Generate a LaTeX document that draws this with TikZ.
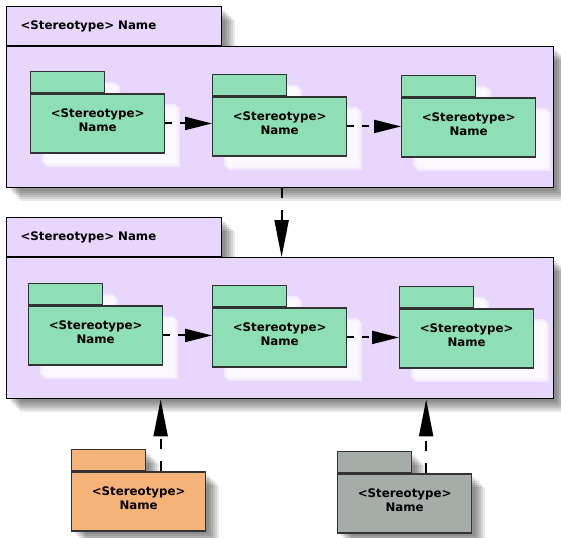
\documentclass[tikz,border=0pt]{standalone}
\usepackage{fontspec}
\setmainfont{DejaVu Sans}
\usetikzlibrary{positioning,arrows.meta,shadows}
\definecolor{pkglilac}{HTML}{E8D6FC}
\definecolor{pkggreen}{HTML}{8EDFB6}
\definecolor{pkgorange}{HTML}{F5B279}
\definecolor{pkggray}{HTML}{A6ACA7}
\definecolor{pkgline}{HTML}{333333}

\begin{document}
\begin{tikzpicture}[x=1pt,y=-1pt,
  every node/.style={font=\fontsize{11.8}{14}\selectfont\bfseries,inner sep=0pt},
  softshadow/.style={
    general shadow={fill=black,opacity=.09,shadow xshift=3pt,shadow yshift=-3pt},
    general shadow={fill=black,opacity=.09,shadow xshift=5pt,shadow yshift=-5pt},
    general shadow={fill=black,opacity=.09,shadow xshift=7pt,shadow yshift=-7pt},
    general shadow={fill=black,opacity=.09,shadow xshift=9pt,shadow yshift=-9pt},
    general shadow={fill=black,opacity=.09,shadow xshift=11pt,shadow yshift=-11pt},
    general shadow={fill=black,opacity=.09,shadow xshift=13pt,shadow yshift=-13pt}},
  whiteshadow/.style={
    general shadow={fill=white,opacity=.5,shadow xshift=11pt,shadow yshift=-10pt},
    general shadow={fill=white,opacity=.5,shadow xshift=13pt,shadow yshift=-12pt},
    general shadow={fill=white,opacity=.5,shadow xshift=15pt,shadow yshift=-14pt}},
  bigtab/.style={draw=black,line width=1.2pt,fill=pkglilac,softshadow,minimum width=215pt,minimum height=39pt,
    text width=187pt,align=left,anchor=north west},
  bigbody/.style={draw=black,line width=1.2pt,fill=pkglilac,softshadow,minimum width=547pt,minimum height=141pt},
  smalltab/.style={draw=pkgline,line width=1.3pt,fill=#1,minimum width=74pt,minimum height=21pt,anchor=north west},
  smallbody/.style={draw=pkgline,line width=1.3pt,fill=#1,minimum width=134pt,minimum height=59pt,align=center,text depth=6pt},
  dep/.style={line width=2pt,dash pattern=on 7pt off 8pt,-{Triangle[length=27pt,width=13pt]}},
  uses/.style={line width=2pt,dash pattern=on 10pt off 12pt,-{Triangle[length=37pt,width=14pt]}}
]
\fill[white] (0,0) rectangle (561,537);
\useasboundingbox (0,0) rectangle (561,537);

% upper package
\node[bigtab] (topTab) at (6,6) {<Stereotype> Name};
\node[bigbody,below right=0pt and 0pt of topTab.south west] (topBody) {};
\node[smalltab=pkggreen,whiteshadow] (a1Tab) at (30,71) {};
\node[smallbody=pkggreen,whiteshadow,below right=0pt and 0pt of a1Tab.south west] (a1) {<Stereotype>\\Name};
\node[smalltab=pkggreen,whiteshadow] (a2Tab) at (212,74) {};
\node[smallbody=pkggreen,whiteshadow,below right=0pt and 0pt of a2Tab.south west] (a2) {<Stereotype>\\Name};
\node[smalltab=pkggreen,whiteshadow] (a3Tab) at (401,75) {};
\node[smallbody=pkggreen,whiteshadow,below right=0pt and 0pt of a3Tab.south west] (a3) {<Stereotype>\\Name};

% lower package
\node[bigtab] (midTab) at (6,217) {<Stereotype> Name};
\node[bigbody,below right=0pt and 0pt of midTab.south west] (midBody) {};
\node[smalltab=pkggreen,whiteshadow] (b1Tab) at (28,283) {};
\node[smallbody=pkggreen,whiteshadow,below right=0pt and 0pt of b1Tab.south west] (b1) {<Stereotype>\\Name};
\node[smalltab=pkggreen,whiteshadow] (b2Tab) at (212,285) {};
\node[smallbody=pkggreen,whiteshadow,below right=0pt and 0pt of b2Tab.south west] (b2) {<Stereotype>\\Name};
\node[smalltab=pkggreen,whiteshadow] (b3Tab) at (399,286) {};
\node[smallbody=pkggreen,whiteshadow,below right=0pt and 0pt of b3Tab.south west] (b3) {<Stereotype>\\Name};

% client packages
\node[smalltab=pkgorange,softshadow] (orTab) at (71,449) {};
\node[smallbody=pkgorange,softshadow,below right=0pt and 0pt of orTab.south west] (orPkg) {<Stereotype>\\Name};
\node[smalltab=pkggray,softshadow] (grTab) at (337,451) {};
\node[smallbody=pkggray,softshadow,below right=0pt and 0pt of grTab.south west] (grPkg) {<Stereotype>\\Name};

% dependencies
\draw[dep] (a1.east) -- (a1.east -| a2.west);
\draw[dep] (a2.east) -- (a2.east -| a3.west);
\draw[dep] (b1.east) -- (b1.east -| b2.west);
\draw[dep] (b2.east) -- (b2.east -| b3.west);
\draw[uses] ([xshift=1.5pt]topBody.south) -- ([xshift=1.5pt]topBody.south |- midBody.north);
\draw[uses] ([xshift=22pt]orPkg.north) -- ([xshift=22pt]orPkg.north |- midBody.south);
\draw[uses] ([xshift=21.5pt]grPkg.north) -- ([xshift=21.5pt]grPkg.north |- midBody.south);
\end{tikzpicture}
\end{document}
